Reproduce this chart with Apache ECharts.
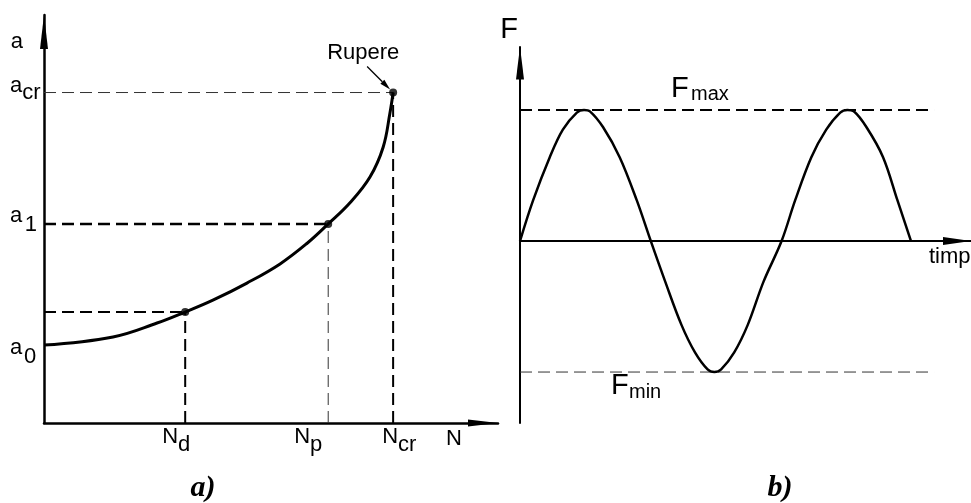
<!DOCTYPE html>
<html>
<head>
<meta charset="utf-8">
<script src="https://cdn.jsdelivr.net/npm/echarts@6/dist/echarts.min.js"></script>
<style>
  html, body { margin: 0; padding: 0; background: #fff; }
  #c { width: 971px; height: 503px; }
</style>
</head>
<body>
<div id="c"></div>
<script>
// a) crack growth: crack length a against number of load cycles N
const crackN = [0, 15.2, 24.9, 31.1, 37.2, 44.7, 52.0, 57.9, 62.6, 67.4, 71.8, 74.7, 76.2, 76.9];
const crackA = [19.1, 21.1, 24.5, 27.2, 30.1, 34.3, 39.0, 44.0, 48.8, 54.0, 60.3, 67.6, 76.0, 81.0];
const stageN = [31.1, 62.6, 76.9];      // Nd, Np, Ncr
const stageA = [27.2, 48.8, 81.0];      // a(Nd), a1, acr
const nSubs = ['d', 'p', 'cr'];
const aTicks = [19.1, 48.8, 81.0];      // a0, a1, acr
const aSubs = ['0', '1', 'cr'];

// b) alternating load F against time
const loadT = [0, 2.9, 6.6, 9.5, 12.6, 14.2, 15.5, 18.4, 22.1, 25.9, 29.0, 32.2, 35.8, 38.8, 41.6, 43.1, 44.6, 47.5, 50.5, 54.0, 58.0, 61.0, 64.6, 67.9, 71.0, 72.6, 74.0, 76.8, 80.5, 83.7, 86.7];
const loadF = [0, 0.31, 0.64, 0.85, 0.98, 1.0, 0.99, 0.87, 0.64, 0.31, 0, -0.31, -0.64, -0.85, -0.98, -1.0, -0.98, -0.85, -0.64, -0.31, 0, 0.31, 0.64, 0.85, 0.98, 1.0, 0.99, 0.87, 0.64, 0.31, 0];
const fMax = 1;
const fMin = -1;
const tLimit = 91.8;

const FONT = '"Liberation Sans", Arial, sans-serif';
const SERIF = '"Liberation Serif", serif';
const pairs = (xs, ys) => xs.map((x, i) => [x, ys[i]]);
const guide = (points, width, color, gi) => ({
  type: 'line', xAxisIndex: gi, yAxisIndex: gi, data: points,
  symbol: 'none', silent: true, z: 1,
  lineStyle: { width: width, color: color, type: [12, 6] }
});

const measureCtx = document.createElement('canvas').getContext('2d');
const textWidth = (s, size) => { measureCtx.font = size + 'px ' + FONT; return measureCtx.measureText(s).width; };
const label = (s, x, y, size) => ({
  type: 'text', x: x, y: y, silent: true,
  style: { text: s, fontSize: size, fontFamily: FONT, fill: '#000', align: 'left', verticalAlign: 'middle' }
});

const chart = echarts.init(document.getElementById('c'));

chart.setOption({
  animation: false,
  backgroundColor: '#fff',
  grid: [
    { left: 44, top: 15, width: 454, height: 408, containLabel: false, outerBoundsMode: 'none' },
    { left: 520, top: 47, width: 451, height: 376, containLabel: false, outerBoundsMode: 'none' }
  ],
  xAxis: [
    {
      gridIndex: 0, type: 'value', min: 0, max: 100,
      splitLine: { show: false }, axisTick: { show: false }, axisLabel: { show: false },
      axisLine: { lineStyle: { color: '#000', width: 2.5 }, symbol: ['none', 'triangle'], symbolSize: [7, 30], symbolOffset: [0, -15] },
      name: 'N', nameLocation: 'end', nameGap: -44,
      nameTextStyle: { fontSize: 22, fontFamily: FONT, color: '#000', align: 'center', verticalAlign: 'top', padding: [5, 0, 0, 0] }
    },
    {
      gridIndex: 1, type: 'value', min: 0, max: 100,
      splitLine: { show: false }, axisTick: { show: false }, axisLabel: { show: false },
      axisLine: { onZero: true, lineStyle: { color: '#000', width: 2 }, symbol: ['none', 'triangle'], symbolSize: [8, 28], symbolOffset: [0, -14] },
      name: 'timp', nameLocation: 'end', nameGap: -42,
      nameTextStyle: { fontSize: 22, lineHeight: 23, fontFamily: FONT, color: '#000', align: 'left', verticalAlign: 'top', padding: [4, 0, 0, 0] }
    }
  ],
  yAxis: [
    {
      gridIndex: 0, type: 'value', min: 0, max: 100,
      splitLine: { show: false }, axisTick: { show: false }, axisLabel: { show: false },
      axisLine: { lineStyle: { color: '#000', width: 2.5 }, symbol: ['none', 'triangle'], symbolSize: [8, 34], symbolOffset: [0, -17] },
      name: 'a', nameLocation: 'end', nameGap: -27,
      nameTextStyle: { fontSize: 22, fontFamily: FONT, color: '#000', align: 'right', verticalAlign: 'middle', padding: [0, 21, 0, 0] }
    },
    {
      gridIndex: 1, type: 'value', min: -1.389, max: 1.481,
      splitLine: { show: false }, axisTick: { show: false }, axisLabel: { show: false },
      axisLine: { lineStyle: { color: '#000', width: 2 }, symbol: ['none', 'triangle'], symbolSize: [8, 33], symbolOffset: [0, -16] },
      name: 'F', nameLocation: 'end', nameGap: 17,
      nameTextStyle: { fontSize: 29, fontFamily: FONT, color: '#000', align: 'right', verticalAlign: 'middle', padding: [0, 2, 0, 0] }
    }
  ],
  series: [
    guide([[0, stageA[2]], [stageN[2], stageA[2]]], 1, '#333', 0),
    guide([[stageN[2], 0], [stageN[2], stageA[2]]], 2, '#000', 0),
    guide([[0, stageA[1]], [stageN[1], stageA[1]]], 2.5, '#000', 0),
    guide([[stageN[1], 0], [stageN[1], stageA[1]]], 1, '#333', 0),
    guide([[0, stageA[0]], [stageN[0], stageA[0]]], 2, '#000', 0),
    guide([[stageN[0], 0], [stageN[0], stageA[0]]], 2, '#000', 0),
    {
      type: 'line', xAxisIndex: 0, yAxisIndex: 0, data: pairs(crackN, crackA),
      smooth: 0.4, symbol: 'none', z: 3,
      lineStyle: { color: '#000', width: 3 }
    },
    {
      type: 'scatter', xAxisIndex: 0, yAxisIndex: 0, data: pairs(stageN, stageA),
      symbol: 'circle', symbolSize: 8, z: 4,
      itemStyle: { color: '#000' }
    },
    guide([[0, fMax], [tLimit, fMax]], 2, '#000', 1),
    guide([[0, fMin], [tLimit, fMin]], 1, '#333', 1),
    {
      type: 'line', xAxisIndex: 1, yAxisIndex: 1, data: pairs(loadT, loadF),
      smooth: 0.35, symbol: 'none', z: 3,
      lineStyle: { color: '#000', width: 2.5 }
    }
  ]
});

// Tick names with subscripts, placed at their axis values
const g = [];
const LS = 22;
const aMainDy = [2.5, -7.5, -7];
const aSubDy = [12, 1.5, 0];
const aSubGap = [1.8, 2.4, 0];
aTicks.forEach((v, i) => {
  const y = chart.convertToPixel({ gridIndex: 0 }, [0, v])[1];
  const x = 10;
  g.push(label('a', x, y + aMainDy[i], LS));
  g.push(label(aSubs[i], x + textWidth('a', LS) + aSubGap[i], y + aSubDy[i], LS));
});
const nMainDx = [-23, -34, -11];
stageN.forEach((v, i) => {
  const p = chart.convertToPixel({ gridIndex: 0 }, [v, 0]);
  const x = p[0] + nMainDx[i];
  g.push(label('N', x, p[1] + 14.3, LS));
  g.push(label(nSubs[i], x + textWidth('N', LS), p[1] + 22.3, LS));
});

// failure point callout
const pR = chart.convertToPixel({ gridIndex: 0 }, [stageN[2], stageA[2]]);
const tail = [pR[0] - 26, pR[1] - 26];
const tip = [pR[0] - 3, pR[1] - 3];
const len = Math.hypot(tip[0] - tail[0], tip[1] - tail[1]);
const ux = (tip[0] - tail[0]) / len, uy = (tip[1] - tail[1]) / len;
const base = [tip[0] - 11 * ux, tip[1] - 11 * uy];
const hw = 2.8;
g.push({ type: 'line', silent: true, shape: { x1: tail[0], y1: tail[1], x2: base[0], y2: base[1] }, style: { stroke: '#000', lineWidth: 1.3 } });
g.push({ type: 'polygon', silent: true, shape: { points: [tip, [base[0] - hw * uy, base[1] + hw * ux], [base[0] + hw * uy, base[1] - hw * ux]] }, style: { fill: '#000' } });
g.push(label('Rupere', pR[0] - 66, pR[1] - 40, 22));

// load limit names
const yMax = chart.convertToPixel({ gridIndex: 1 }, [0, fMax])[1];
const yMin = chart.convertToPixel({ gridIndex: 1 }, [0, fMin])[1];
g.push(label('F', 671, yMax - 21, 29));
g.push(label('max', 691, yMax - 16, 20));
g.push(label('F', 611, yMin + 14, 29));
g.push(label('min', 629, yMin + 20, 20));

// panel captions
g.push({ type: 'text', x: 203, y: 488, silent: true, style: { text: 'a)', font: 'italic bold 30px ' + SERIF, fill: '#000', align: 'center', verticalAlign: 'middle' } });
g.push({ type: 'text', x: 780, y: 488, silent: true, style: { text: 'b)', font: 'italic bold 30px ' + SERIF, fill: '#000', align: 'center', verticalAlign: 'middle' } });

chart.setOption({ graphic: g });
</script>
</body>
</html>
